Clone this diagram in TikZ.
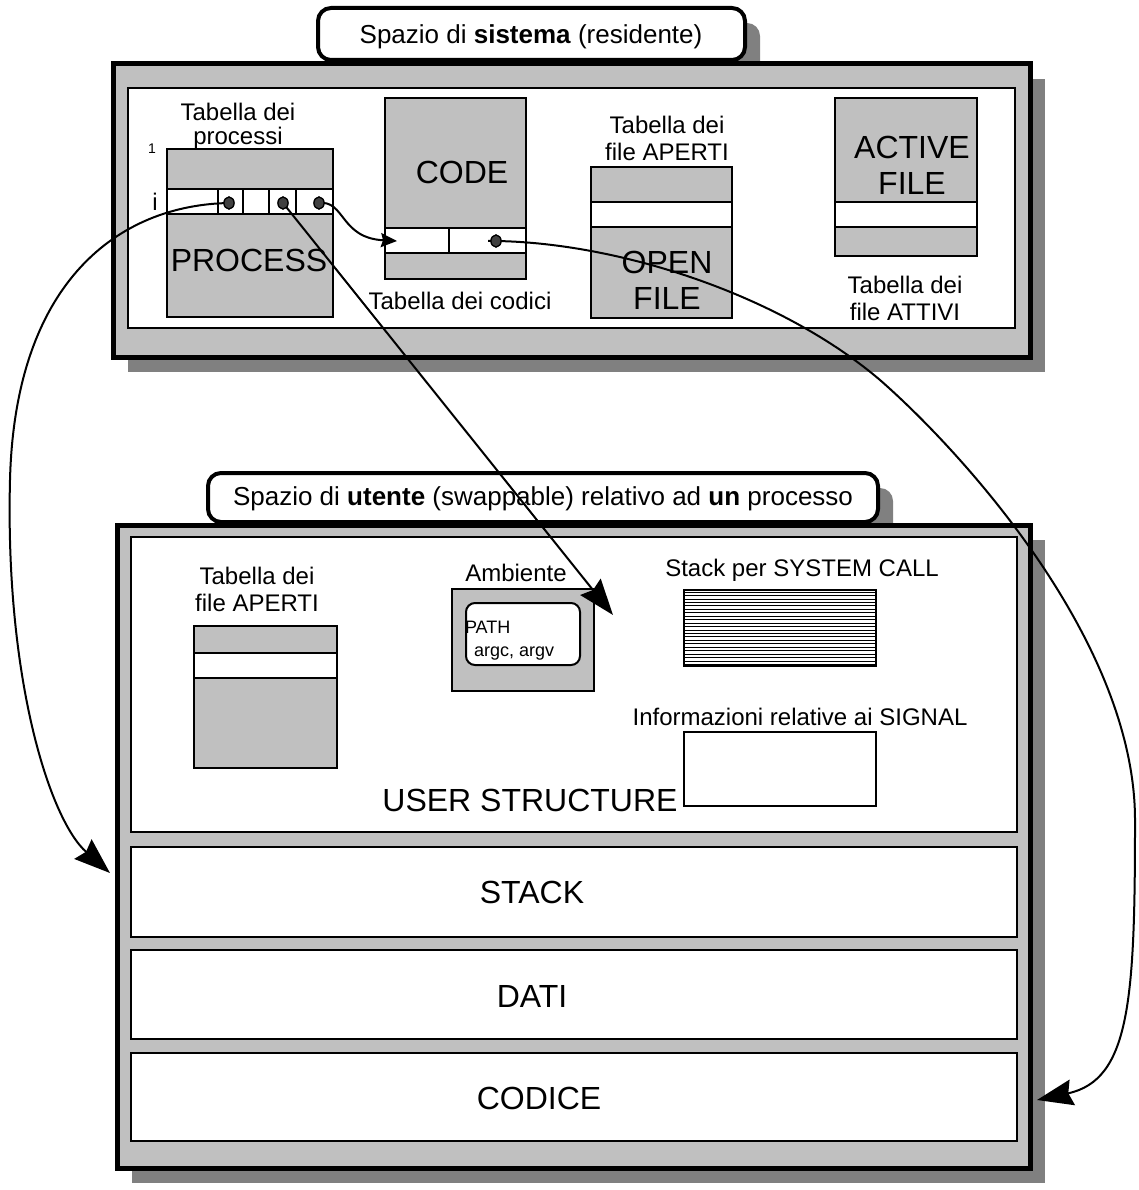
\documentclass[tikz,border=0pt]{standalone}
\usepackage{fontspec}
\setmainfont{Liberation Sans}
\usetikzlibrary{arrows.meta,shapes.geometric}
\definecolor{panelgray}{HTML}{C0C0C0}
\definecolor{shadowgray}{HTML}{808080}
\definecolor{dotgray}{HTML}{404040}
\begin{document}
\begin{tikzpicture}[x=1pt,y=-1pt,
  every node/.style={inner sep=0pt, outer sep=0pt},
  txt/.style={font=\fontsize{24}{27}\selectfont, align=center},
  bigtxt/.style={font=\fontsize{32}{36}\selectfont, align=center},
  tagtxt/.style={font=\fontsize{26}{30}\selectfont},
  smalltxt/.style={font=\fontsize{18}{28}\selectfont, align=left},
  panel/.style={draw, fill=white, line width=2.5pt},
  grayblk/.style={draw, fill=panelgray, line width=2.5pt},
  frame/.style={draw, fill=panelgray, line width=5pt},
  shadow/.style={fill=shadowgray},
  tag/.style={draw, fill=white, line width=4pt, rounded corners=13pt},
  ptr/.style={draw=black, fill=dotgray, ellipse, line width=1.2pt, minimum width=10pt, minimum height=12pt},
  link/.style={line width=2pt},
  bighead/.style={-{Stealth[length=36pt,width=26pt,inset=4pt]}},
  smallhead/.style={-{Stealth[length=16pt,width=14pt,inset=2pt]}}
]
\fill[white] (0,0) rectangle (1138,1190);
\useasboundingbox (0,0) rectangle (1138,1190);

% ---------- system space ----------
\fill[shadow, rounded corners=13pt] (333,23) rectangle (760,75);
\fill[shadow] (128,79) rectangle (1045,372);
\draw[frame] (113,64) rectangle (1030,357);
\draw[tag] (318,8) rectangle (745,60);
\node[tagtxt] (systag) at (531,37) {Spazio di \textbf{sistema} (residente)};
\draw[panel] (128,88) rectangle (1015,328);

% process table
\draw[grayblk] (167,149) rectangle (333,317);
\draw[panel] (167,189) rectangle (333,214);
\foreach \cx in {218,243,269,296} \draw[line width=2.5pt] (\cx,189) -- (\cx,214);
\node[txt, font=\fontsize{24}{24}\selectfont] (proclbl) at (238,126) {Tabella dei\\processi};
\node[font=\fontsize{14}{16}\selectfont] (rowone) at (152,149) {1};
\node[txt] (rowi) at (155,202) {i};
\node[bigtxt] (proctxt) at (249,260) {PROCESS};

% code table
\draw[grayblk] (385,98) rectangle (526,279);
\draw[panel] (385,228) rectangle (526,253);
\draw[line width=2.5pt] (449,228) -- (449,253);
\node[bigtxt] (codetxt) at (462,172) {CODE};
\node[txt] (codelbl) at (460,301) {Tabella dei codici};

% open file table
\draw[grayblk] (591,167) rectangle (732,318);
\draw[panel] (591,202) rectangle (732,227);
\node[txt] (openlbl) at (667,138) {Tabella dei\\file APERTI};
\node[bigtxt] (opentxt) at (667,280) {OPEN\\FILE};

% active file table
\draw[grayblk] (835,98) rectangle (977,256);
\draw[panel] (835,202) rectangle (977,227);
\node[bigtxt] (activetxt) at (912,165) {ACTIVE\\FILE};
\node[txt] (activelbl) at (905,298) {Tabella dei\\file ATTIVI};

% ---------- user space ----------
\fill[shadow, rounded corners=13pt] (223,488) rectangle (893,537);
\fill[shadow] (132,540) rectangle (1045,1183);
\draw[frame] (117,525) rectangle (1030,1168);
\draw[tag] (208,473) rectangle (878,522);
\node[tagtxt] (usrtag) at (543,499) {Spazio di \textbf{utente} (swappable) relativo ad \textbf{un} processo};

\draw[panel] (131,537) rectangle (1017,832);
\draw[panel] (131,847) rectangle (1017,937);
\draw[panel] (131,950) rectangle (1017,1039);
\draw[panel] (131,1053) rectangle (1017,1141);
\node[bigtxt] (stacktxt) at (532,892) {STACK};
\node[bigtxt] (datitxt) at (532,996) {DATI};
\node[bigtxt] (codicetxt) at (539,1098) {CODICE};
\node[bigtxt] (ustxt) at (530,800) {USER STRUCTURE};

% per-process open file table
\node[txt] (ufilelbl) at (257,589) {Tabella dei\\file APERTI};
\draw[grayblk] (194,626) rectangle (337,768);
\draw[panel] (194,653) rectangle (337,678);

% environment
\node[txt] (envlbl) at (516,573) {Ambiente};
\draw[grayblk] (452,589) rectangle (594,691);
\draw[panel, line width=2pt, rounded corners=9pt] (466,603) rectangle (580,665);
\node[smalltxt, anchor=west] (pathtxt) at (465,627) {PATH};
\node[smalltxt, anchor=west] (argtxt) at (474,654) {argc, argv};

% system call stack
\node[txt] (sclbl) at (802,570) {Stack per SYSTEM CALL};
\foreach \k in {0,...,21} \draw[line width=0.8pt] (684,592+\k*3.45) -- (876,592+\k*3.45);
\draw[line width=2.5pt] (684,590) rectangle (876,666);

% signal info
\node[txt] (siglbl) at (800,717) {Informazioni relative ai SIGNAL};
\draw[panel] (684,732) rectangle (876,806);

% ---------- pointers ----------
\coordinate (tgtL) at (110,873);
\coordinate (tgtM) at (613,615);
\coordinate (tgtC) at (397,241);
\coordinate (tgtR) at (1037,1100);
\coordinate (d4tail) at (488,241);

\node[ptr] (d1) at (229,203) {};
\node[ptr] (d2) at (283,203) {};
\node[ptr] (d3) at (319,203) {};
\node[ptr] (d4) at (496,241) {};

\draw[link, bighead] (d1.center) .. controls (120,205) and (15,280) .. (10,480)
      .. controls (5,680) and (50,820) .. (tgtL);
\draw[link, bighead] (d2.center) -- (tgtM);
\draw[link, smallhead] (d3.center) .. controls (345,200) and (340,238) .. (tgtC);
\draw[link, bighead] (d4tail) -- (d4.center) .. controls (620,243) and (780,295) .. (880,380)
      .. controls (960,450) and (1135,640) .. (1135,820)
      .. controls (1135,1000) and (1130,1080) .. (tgtR);

\node[ptr] at (d1) {};
\node[ptr] at (d2) {};
\node[ptr] at (d3) {};
\node[ptr] at (d4) {};
\end{tikzpicture}
\end{document}
